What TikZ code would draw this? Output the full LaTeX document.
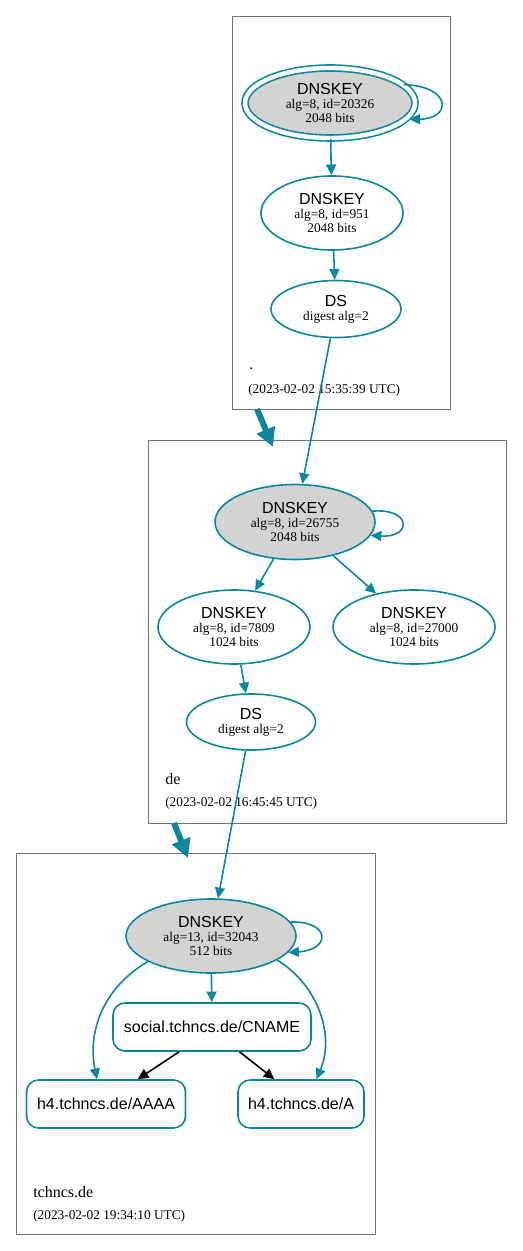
\documentclass[tikz,border=0pt]{standalone}
\usepackage{fontspec}
\setmainfont{Liberation Serif}
\setsansfont{Liberation Sans}
\usepackage{xcolor}
\usepackage{tikz}
\usetikzlibrary{arrows.meta,positioning,calc,shapes.geometric}
\definecolor{secure}{HTML}{0A879A}
\definecolor{keyfill}{HTML}{D3D3D3}
\newcommand{\rrtitle}[1]{{\sffamily\fontsize{12}{14}\selectfont #1}}

\begin{document}
\begin{tikzpicture}[x=0.75pt,y=-0.75pt,
  zone/.style={draw=black!55,line width=0.6pt,inner sep=0pt,outer sep=0pt},
  key/.style={ellipse,draw=secure,line width=1.2pt,inner sep=0pt,align=center,font=\fontsize{10}{10.5}\selectfont},
  sep/.style={key,fill=keyfill},
  rr/.style={rectangle,rounded corners=9pt,draw=secure,line width=1.2pt,minimum height=36pt,font=\sffamily\fontsize{12}{14}\selectfont},
  arr/.style={-{Triangle[length=8pt,width=7.5pt]},secure,line width=1.2pt},
  blk/.style={-{Triangle[length=8pt,width=7.5pt]},black,line width=1.2pt},
  deleg/.style={-{Triangle[length=14pt,width=14pt]},secure,line width=4.5pt},
  zname/.style={anchor=west,inner sep=0pt,font=\fontsize{12}{14}\selectfont},
  zdate/.style={anchor=west,inner sep=0pt,font=\fontsize{10}{12}\selectfont}
]
  \useasboundingbox (0,0) rectangle (523,1251);
  % zones
  \node[zone,minimum width=163.5pt,minimum height=294.75pt] (root) at (341,212.5) {};
  \node[zone,minimum width=268.5pt,minimum height=287.25pt] (de) at (327,631.5) {};
  \node[zone,minimum width=269.25pt,minimum height=285.75pt] (tch) at (195.5,1043.5) {};
  \node[zname] (rootname) at (249,369) {.};
  \node[zdate] (rootdate) at (248,390) {(2023-02-02 15:35:39 UTC)};
  \node[zname] (dename) at (165,779) {de};
  \node[zdate] (dedate) at (165,803) {(2023-02-02 16:45:45 UTC)};
  \node[zname] (tchname) at (33,1192) {tchncs.de};
  \node[zdate] (tchdate) at (33,1216) {(2023-02-02 19:34:10 UTC)};

  % root zone
  \node[sep,double=white,double distance=3.3pt,minimum width=127.5pt,minimum height=52.5pt] (rootksk) at (330,103)
    {\rrtitle{DNSKEY}\\alg=8, id=20326\\2048 bits};
  \node[key,minimum width=106.5pt,minimum height=55.5pt] (rootzsk) at (332,213)
    {\rrtitle{DNSKEY}\\alg=8, id=951\\2048 bits};
  \node[key,minimum width=97.5pt,minimum height=42.75pt] (rootds) at (336,309)
    {\rrtitle{DS}\\digest alg=2};

  % de zone
  \node[sep,minimum width=120pt,minimum height=56.25pt] (deksk) at (295,522)
    {\rrtitle{DNSKEY}\\alg=8, id=26755\\2048 bits};
  \node[key,minimum width=114pt,minimum height=55.5pt] (dezska) at (234,627)
    {\rrtitle{DNSKEY}\\alg=8, id=7809\\1024 bits};
  \node[key,minimum width=121.5pt,minimum height=55.5pt] (dezskb) at (414,627)
    {\rrtitle{DNSKEY}\\alg=8, id=27000\\1024 bits};
  \node[key,minimum width=96.75pt,minimum height=42pt] (deds) at (251,722)
    {\rrtitle{DS}\\digest alg=2};

  % tchncs.de zone
  \node[sep,minimum width=127.5pt,minimum height=55.5pt] (tchksk) at (211,936)
    {\rrtitle{DNSKEY}\\alg=13, id=32043\\512 bits};
  \node[rr,minimum width=148.5pt] (cname) at (212,1027) {social.tchncs.de/CNAME};
  \node[rr,minimum width=119.25pt] (aaaa) at (106,1104) {h4.tchncs.de/AAAA};
  \node[rr,minimum width=94.5pt] (arec) at (301,1104) {h4.tchncs.de/A};

  % edges
  \draw[arr] (rootksk.14) .. controls (452,86) and (452,119) .. ([xshift=2.2pt]rootksk.-12);
  \draw[arr] (rootksk) -- (rootzsk);
  \draw[arr] (rootzsk) -- (rootds);
  \draw[arr] (rootds) -- (deksk);
  \draw[arr] (deksk.8) .. controls (412,508) and (412,538) .. (deksk.-10);
  \draw[arr] (deksk) -- (dezska);
  \draw[arr] (deksk) -- (dezskb);
  \draw[arr] (dezska) -- (deds);
  \draw[arr] (deds) -- (tchksk);
  \draw[arr] (tchksk.10) .. controls (331,921) and (331,950) .. (tchksk.-12);
  \draw[arr] (tchksk) -- (cname);
  \draw[arr] (tchksk.202) .. controls (100,990) and (88,1035) .. (aaaa.110);
  \draw[arr] (tchksk.-20) .. controls (318,985) and (335,1035) .. (arec.58);
  \draw[blk] (cname.217) -- (aaaa.38);
  \draw[blk] (cname.-42) -- (arec.137);

  % delegations
  \draw[deleg] ($(root.south west)+(25,0)$) -- ($(de.north west)+(125,7)$);
  \draw[deleg] ($(de.south west)+(26,0)$) -- ($(tch.north west)+(172,5)$);
\end{tikzpicture}
\end{document}
